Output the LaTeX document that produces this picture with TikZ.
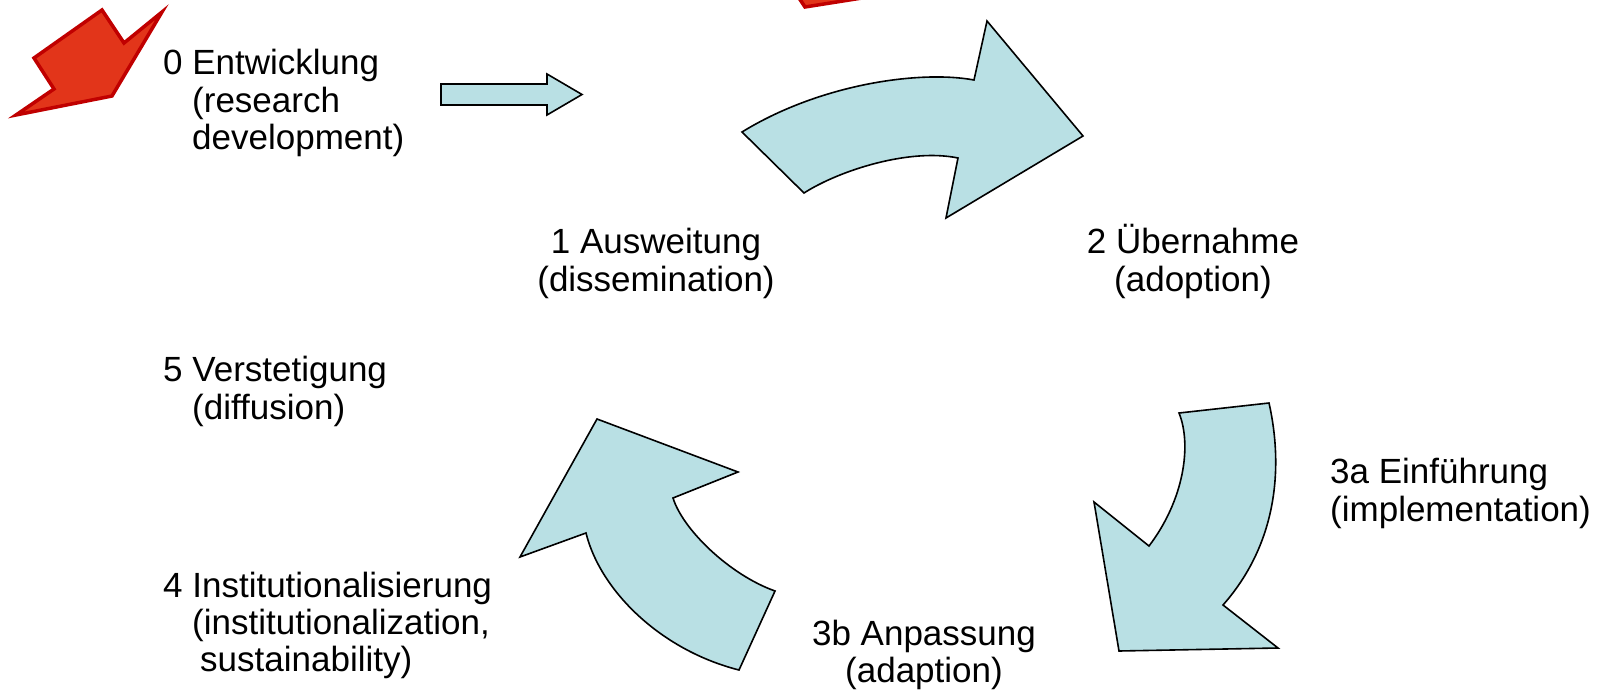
\documentclass[tikz,border=0pt]{standalone}
\usepackage{fontspec}
\setmainfont{Liberation Sans}
\definecolor{arrowblue}{RGB}{185,224,228}
\definecolor{redfill}{RGB}{226,53,26}
\definecolor{redline}{RGB}{192,0,0}
\begin{document}
\begin{tikzpicture}[x=1pt,y=-1pt,
  lbl/.style={inner sep=0pt,font=\fontsize{35}{40}\selectfont},
  lw/.style={lbl,anchor=base west},
  lc/.style={lbl,anchor=base},
  bluearrow/.style={fill=arrowblue,draw=black,line width=1.6pt,line join=miter},
  redarrow/.style={fill=redfill,draw=redline,line width=3.5pt,line join=miter}]
\useasboundingbox (0,0) rectangle (1608,695);
% red arrows
\draw[redarrow] (34,58) -- (102,10) -- (124,43) -- (162,12) -- (112,96) -- (16,115) -- (54,89) -- cycle;
\draw[redarrow] (797,-5) -- (805,7) -- (862,-2) -- cycle;
% straight arrow
\draw[bluearrow] (441,84) -- (547,84) -- (547,74) -- (582,94.5) -- (547,115) -- (547,105) -- (441,105) -- cycle;
% top curved arrow
\draw[bluearrow] (742,132) -- (804,193) .. controls (840,170) and (910,148) .. (958,158) -- (946,218) -- (1083,136) -- (987,21) -- (974,80) .. controls (920,70) and (820,84) .. (742,132) -- cycle;
% right curved arrow
\draw[bluearrow] (1179,413) -- (1269,403) .. controls (1284,470) and (1276,545) .. (1223,605) -- (1278,648) -- (1119,651) -- (1094,502) -- (1149,546) .. controls (1184,500) and (1192,445) .. (1179,413) -- cycle;
% lower-left curved arrow
\draw[bluearrow] (739,670) -- (775,591) .. controls (730,575) and (683,530) .. (673,498) -- (738,472) -- (597,419) -- (520,557) -- (586,533) .. controls (600,590) and (660,650) .. (739,670) -- cycle;
% labels
\node[lw] (l0a) at (163,75) {0 Entwicklung};
\node[lw] (l0b) at (192,113) {(research};
\node[lw] (l0c) at (192,150) {development)};
\node[lc] (l1a) at (656,253) {1 Ausweitung};
\node[lc] (l1b) at (656,291) {(dissemination)};
\node[lc] (l2a) at (1193,253) {2 Übernahme};
\node[lc] (l2b) at (1193,291) {(adoption)};
\node[lw] (l5a) at (163,381) {5 Verstetigung};
\node[lw] (l5b) at (192,419) {(diffusion)};
\node[lw] (l3aa) at (1330,483) {3a Einführung};
\node[lw] (l3ab) at (1330,521) {(implementation)};
\node[lw] (l4a) at (163,597) {4 Institutionalisierung};
\node[lw] (l4b) at (192,634) {(institutionalization,};
\node[lw] (l4c) at (200,671) {sustainability)};
\node[lc] (l3ba) at (924,645) {3b Anpassung};
\node[lc] (l3bb) at (924,682) {(adaption)};
\end{tikzpicture}
\end{document}
